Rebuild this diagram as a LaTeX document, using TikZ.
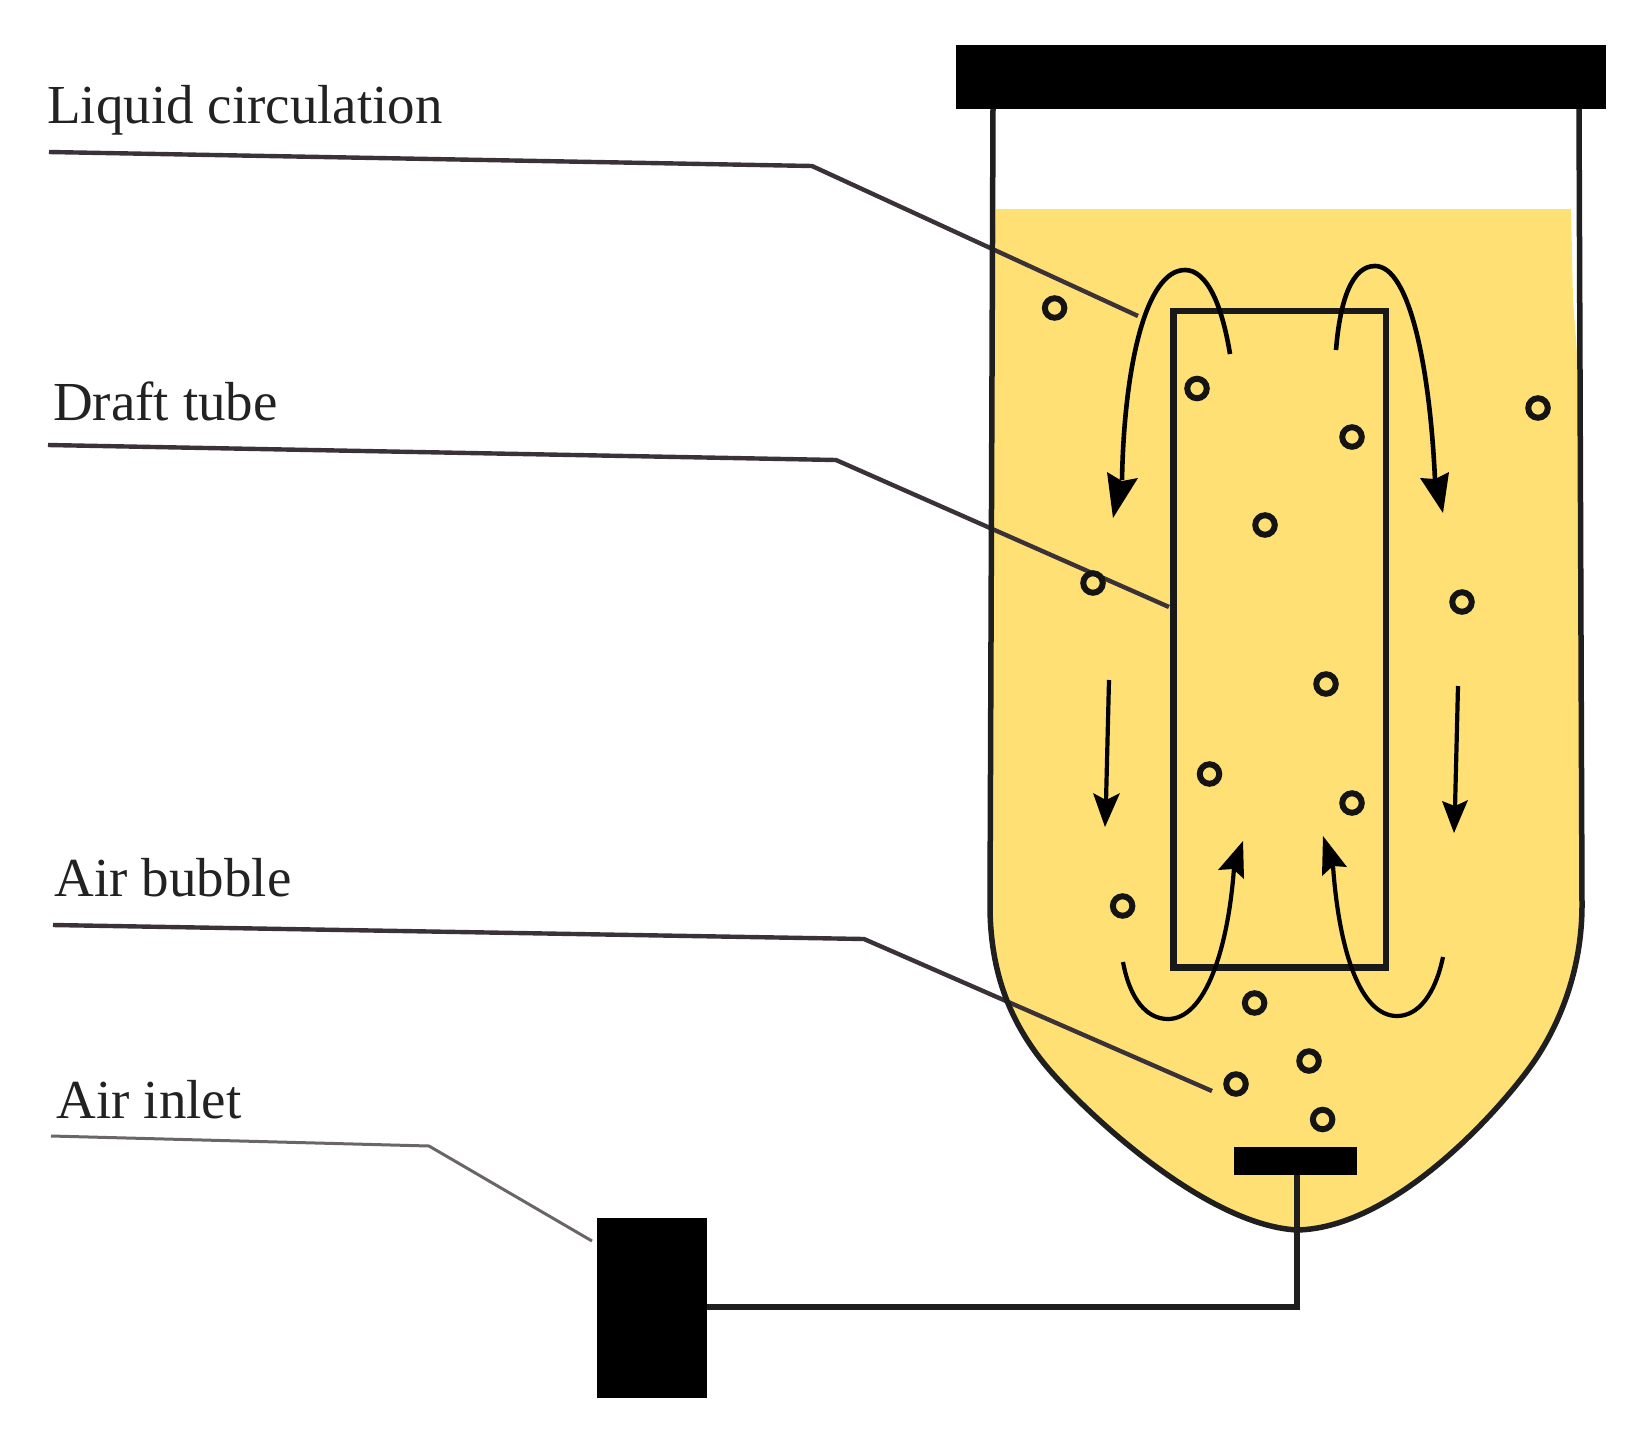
\documentclass[tikz,border=0pt]{standalone}
\usepackage{fontspec}
\setmainfont{Liberation Serif}
\definecolor{liquid}{HTML}{FFE075}
\definecolor{leaderc}{HTML}{3A3238}
\definecolor{inletc}{HTML}{6A6668}
\definecolor{labelc}{HTML}{222222}
\tikzset{
  wall/.style={draw=black!88, line width=5.5pt},
  tube/.style={draw=black!90, line width=6.8pt},
  leader/.style={draw=leaderc, line width=4.4pt, line join=miter},
  inletleader/.style={draw=inletc, line width=3pt},
  flow/.style={draw=black, line width=4.6pt},
  lowflow/.style={draw=black, line width=4.2pt},
  thinflow/.style={draw=black, line width=4.2pt},
  head/.style={fill=black, draw=none},
  bubble/.style={circle, draw=black!92, line width=6pt, fill=none, minimum size=19.5pt, inner sep=0pt},
  label/.style={anchor=base west, inner sep=0pt, text=labelc, font=\fontsize{55}{60}\selectfont},
  solid block/.style={fill=black, draw=none}
}
\begin{document}
\begin{tikzpicture}[x=1pt,y=-1pt]
\useasboundingbox (0,0) rectangle (1642,1446);
% liquid
\fill[liquid] (996,209) -- (1571,209) -- (1573,300) -- (1579,380) -- (1582,905)
  .. controls (1582,975) and (1556,1030) .. (1533,1063)
  .. controls (1500,1110) and (1395,1228) .. (1297,1230)
  .. controls (1205,1225) and (1085,1112) .. (1047,1067)
  .. controls (1012,1025) and (990,975) .. (990,905) -- (993,380) -- cycle;
% names for connector ends
\coordinate (L1a) at (49,152); \coordinate (L1b) at (812,166); \coordinate (L1c) at (1138,316);
\coordinate (L2a) at (48,445); \coordinate (L2b) at (836,460); \coordinate (L2c) at (1169,607);
\coordinate (L3a) at (53,925); \coordinate (L3b) at (864,939); \coordinate (L3c) at (1212,1091);
\coordinate (L4a) at (51,1136); \coordinate (L4b) at (429,1146); \coordinate (L4c) at (592,1241);
% leaders
\draw[leader] (L1a) -- (L1b) -- (L1c);
\draw[leader] (L2a) -- (L2b) -- (L2c);
\draw[leader] (L3a) -- (L3b) -- (L3c);
\draw[inletleader] (L4a) -- (L4b) -- (L4c);
% vessel
\draw[wall] (993,108) -- (990,905)
  .. controls (990,975) and (1012,1025) .. (1047,1067)
  .. controls (1085,1112) and (1205,1225) .. (1297,1230)
  .. controls (1395,1228) and (1500,1110) .. (1533,1063)
  .. controls (1556,1030) and (1582,975) .. (1582,905) -- (1579,108);
\node[solid block, minimum width=650pt, minimum height=64pt, inner sep=0pt] (cap) at (1281,77) {};
% draft tube
\node[tube, minimum width=212.5pt, minimum height=656.5pt, inner sep=0pt] (draft) at (1279.75,639.25) {};
% sparger, pump, pipe
\node[solid block, minimum width=122.7pt, minimum height=28pt, inner sep=0pt] (sparger) at (1295.3,1160.5) {};
\node[solid block, minimum width=110pt, minimum height=180pt, inner sep=0pt] (pump) at (652,1308) {};
\draw[wall] (pump.east |- 0,1307) -| (sparger.south -| 1297,0);
% curved flows
\draw[flow] (1230,354) .. controls (1222,305) and (1207,270) .. (1185,270)
  .. controls (1145,270) and (1124,370) .. (1122,480);
\fill[head] (1113,518) -- (1107,472) -- (1122,481) -- (1138,478) -- cycle;
\draw[flow] (1336,350) .. controls (1340,300) and (1352,266) .. (1375,266)
  .. controls (1410,266) and (1430,370) .. (1435,480);
\fill[head] (1443,513) -- (1420,478) -- (1435,479) -- (1449,472) -- cycle;
\draw[lowflow] (1123,962) .. controls (1130,1000) and (1147,1019) .. (1168,1019)
  .. controls (1205,1019) and (1228,950) .. (1234,868);
\fill[head] (1243,841) -- (1218,870) -- (1233,869) -- (1244,879) -- cycle;
\draw[lowflow] (1443,957) .. controls (1435,995) and (1418,1016) .. (1397,1016)
  .. controls (1360,1016) and (1339,950) .. (1333,866);
\fill[head] (1323,836) -- (1347,867) -- (1333,866) -- (1322,876) -- cycle;
% straight flows
\draw[thinflow] (1109,680) -- (1106,802);
\fill[head] (1105,827) -- (1093,793) -- (1106,800) -- (1120,793) -- cycle;
\draw[thinflow] (1458,686) -- (1455,808);
\fill[head] (1454,833) -- (1442,801) -- (1455,806) -- (1468,800) -- cycle;
% bubbles
\node[bubble] (b1) at (1054.6,308) {};
\node[bubble] (b2) at (1197,388.5) {};
\node[bubble] (b3) at (1352,437) {};
\node[bubble] (b4) at (1538,408) {};
\node[bubble] (b5) at (1265,525) {};
\node[bubble] (b6) at (1093,583) {};
\node[bubble] (b7) at (1462,602) {};
\node[bubble] (b8) at (1326,684) {};
\node[bubble] (b9) at (1209.5,774) {};
\node[bubble] (b10) at (1352,803) {};
\node[bubble] (b11) at (1122.6,906) {};
\node[bubble] (b12) at (1254.6,1003) {};
\node[bubble] (b13) at (1309,1061) {};
\node[bubble] (b14) at (1236,1084) {};
\node[bubble] (b15) at (1322.6,1119.5) {};
% labels
\node[label] (t1) at (47,123) {Liquid circulation};
\node[label] (t2) at (53,420) {Draft tube};
\node[label] (t3) at (54.5,896) {Air bubble};
\node[label] (t4) at (56.5,1118) {Air inlet};
\end{tikzpicture}
\end{document}
